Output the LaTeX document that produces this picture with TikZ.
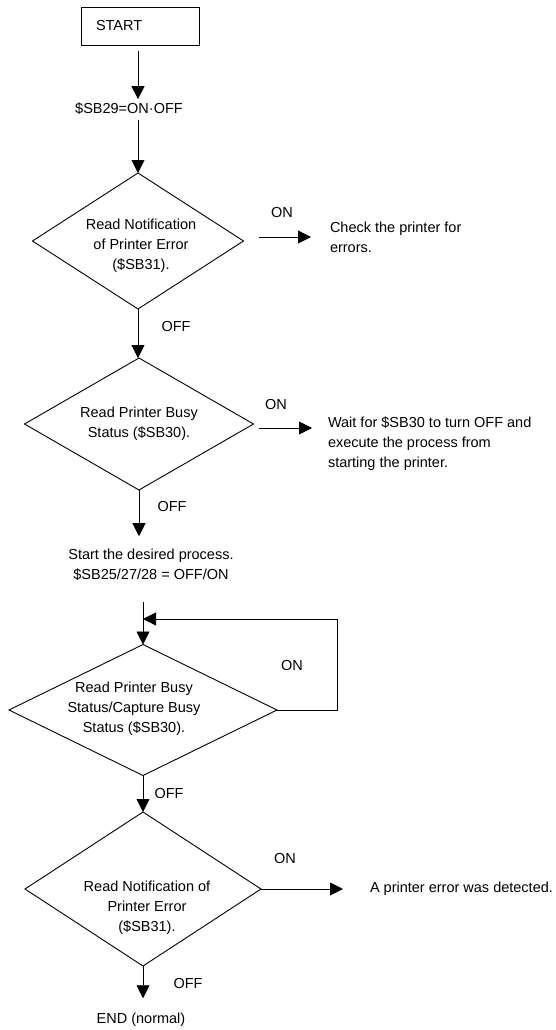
\documentclass[tikz,border=0pt]{standalone}
\usepackage{fontspec}
\setmainfont{Liberation Sans}
\usetikzlibrary{shapes.geometric,arrows.meta}
\begin{document}
\begin{tikzpicture}[x=1pt,y=-1pt,
  line width=0.9pt,
  every node/.style={font=\fontsize{14.5}{20}\selectfont, inner sep=0pt, outer sep=0pt},
  dia/.style={draw, diamond, inner sep=0pt},
  box/.style={draw, rectangle},
  arr/.style={-{Triangle[width=13pt,length=13pt]}},
  ctext/.style={align=center},
  ltext/.style={align=left, anchor=west},
]
\useasboundingbox (0,0) rectangle (555,1030);
% start
\node[box, minimum width=118pt, minimum height=38pt] (start) at (140,26) {};
\node[anchor=west] (starttxt) at (96,25.5) {START};
\node (sb29) at (129,109) {\$SB29=ON·OFF};

% decision 1
\node[dia, minimum width=211pt, minimum height=136pt] (d1) at (138,241) {};
\node[ctext] (d1t) at (141,246) {Read Notification\\of Printer Error\\(\$SB31).};
\node (on1) at (282,213) {ON};
\node[ltext] (chk) at (330,237) {Check the printer for\\errors.};
\node (off1) at (176,327) {OFF};

% decision 2
\node[dia, minimum width=229pt, minimum height=132pt] (d2) at (139,424) {};
\node[ctext] (d2t) at (139,424) {Read Printer Busy\\Status (\$SB30).};
\node (on2) at (276,405) {ON};
\node[ltext] (wait) at (328,444) {Wait for \$SB30 to turn OFF and\\execute the process from\\starting the printer.};
\node (off2) at (172,507) {OFF};

\node[ctext] (proc) at (151,565) {Start the desired process.\\\$SB25/27/28 = OFF/ON};

% decision 3
\node[dia, minimum width=268pt, minimum height=131pt] (d3) at (143,710) {};
\node[ctext] (d3t) at (134,709) {Read Printer Busy\\Status/Capture Busy\\Status (\$SB30).};
\node (on3) at (292,666) {ON};
\node (off3) at (169,793) {OFF};
\coordinate (lp) at (337,619);

% decision 4
\node[dia, minimum width=236pt, minimum height=154pt] (d4) at (143,889) {};
\node[ctext] (d4t) at (147,908) {Read Notification of\\Printer Error\\(\$SB31).};
\node (on4) at (285,858) {ON};
\node[ltext] (det) at (370,889) {A printer error was detected.};
\node (off4) at (188,983) {OFF};
\node (end) at (141,1020) {END (normal)};

% connectors
\draw[arr, shorten <=6pt, shorten >=4pt] (d1.north |- start.south) -- (d1.north |- sb29.north);
\draw[arr, shorten <=5pt] (d1.north |- sb29.south) -- (d1.north);
\draw[arr, shorten <=15pt, shorten >=19pt] (d1.east |- chk.west) -- (chk.west);
\draw[arr] (d1.south) -- (d1.south |- d2.north);
\draw[arr, shorten <=5pt, shorten >=16pt] ([yshift=-4pt]d2.east) -- ([yshift=-4pt]d2.east -| wait.west);
\draw[arr, shorten >=13pt] (d2.south) -- (d2.south |- proc.north);
\draw[arr, shorten <=21pt] (d3.north |- proc.south) -- (d3.north);
\draw[arr] (d3.east) -| (lp) -- (lp -| d3.north);
\draw[arr] (d3.south) -- (d4.north);
\draw[arr, shorten >=27pt] (d4.east) -- (det.west);
\draw[arr, shorten >=15pt] (d4.south) -- (d4.south |- end.north);
\end{tikzpicture}
\end{document}
